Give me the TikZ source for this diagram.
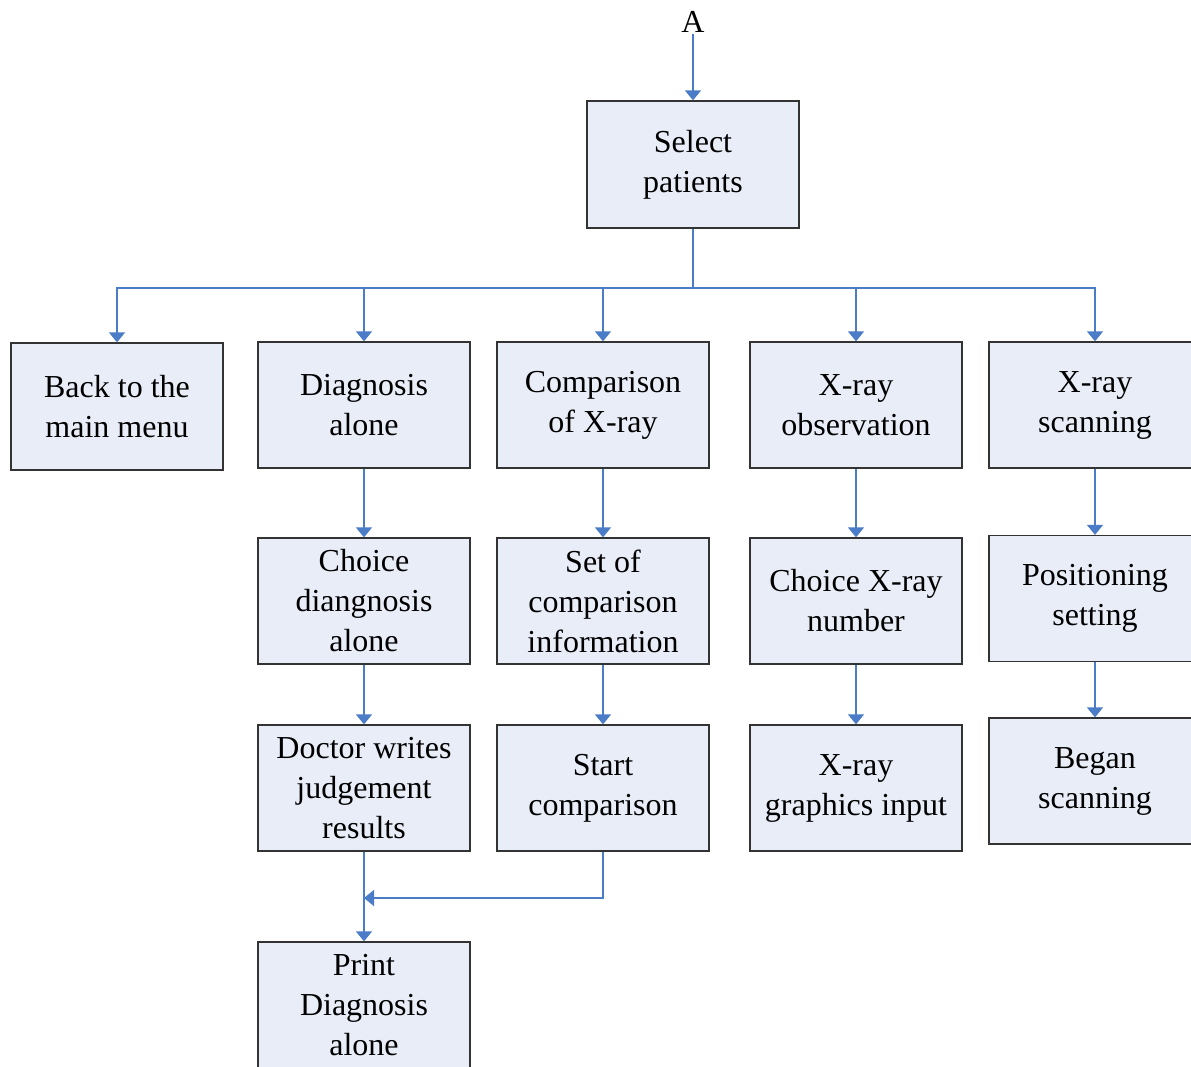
\documentclass[tikz,border=0pt]{standalone}
\usepackage{fontspec}
\setmainfont{Liberation Serif}
\usetikzlibrary{arrows.meta}
\definecolor{boxfill}{HTML}{E8EDF7}
\definecolor{boxline}{HTML}{333333}
\definecolor{arrowblue}{HTML}{4A7CC7}
\begin{document}
\begin{tikzpicture}[x=1pt,y=-1pt,
  box/.style={draw=boxline,line width=1.3pt,fill=boxfill,minimum width=212pt,minimum height=126pt,
    inner sep=0pt,align=center,font=\fontsize{32}{40}\selectfont},
  arr/.style={draw=arrowblue,line width=1.4pt,-{Triangle[width=16pt,length=10pt]}},
  ln/.style={draw=arrowblue,line width=1.4pt}]
\useasboundingbox (0,0) rectangle (1191,1066);
\clip (0,0) rectangle (1191,1066);
\fill[white] (0,0) rectangle (1191,1066);
\node[font=\fontsize{32}{40}\selectfont,inner sep=1pt] (A) at (693,22) {A};
\node[box,minimum height=127pt] (sel) at (693,164.5) {Select\\patients};
\node[box,minimum height=127pt] (back) at (117,406.5) {Back to the\\main menu};
\node[box] (diag) at (364,405) {Diagnosis\\alone};
\node[box] (comp) at (603,405) {Comparison\\of X-ray};
\node[box] (obs) at (856,405) {X-ray\\observation};
\node[box] (scan) at (1095,405) {X-ray\\scanning};
\node[box] (cdiag) at (364,601) {Choice\\diangnosis\\alone};
\node[box] (setc) at (603,601) {Set of\\comparison\\information};
\node[box] (cnum) at (856,601) {Choice X-ray\\number};
\node[box] (pos) at (1095,598.5) {Positioning\\setting};
\node[box] (doc) at (364,788) {Doctor writes\\judgement\\results};
\node[box] (start) at (603,788) {Start\\comparison};
\node[box] (gin) at (856,788) {X-ray\\graphics input};
\node[box] (began) at (1095,781) {Began\\scanning};
\node[box] (print) at (364,1005) {Print\\Diagnosis\\alone};
\coordinate (hub) at (693,288);
\coordinate (join) at (364,898);
\draw[arr] (A.south) -- (sel.north);
\draw[ln] (sel.south) -- (hub);
\draw[arr] (hub) -| (back.north);
\draw[arr] (hub) -| (diag.north);
\draw[arr] (hub) -| (comp.north);
\draw[arr] (hub) -| (obs.north);
\draw[arr] (hub) -| (scan.north);
\draw[arr] (diag.south) -- (cdiag.north);
\draw[arr] (cdiag.south) -- (doc.north);
\draw[arr] (comp.south) -- (setc.north);
\draw[arr] (setc.south) -- (start.north);
\draw[arr] (obs.south) -- (cnum.north);
\draw[arr] (cnum.south) -- (gin.north);
\draw[arr] (scan.south) -- (pos.north);
\draw[arr] (pos.south) -- (began.north);
\draw[arr] (start.south) |- (join);
\draw[arr] (doc.south) -- (print.north);
\end{tikzpicture}
\end{document}
